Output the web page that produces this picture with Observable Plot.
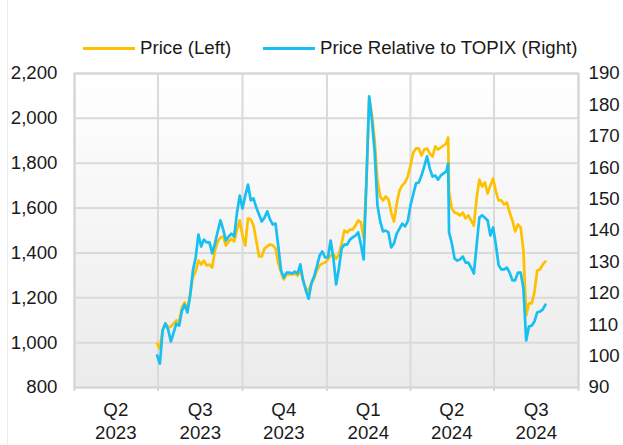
<!DOCTYPE html>
<html><head><meta charset="utf-8">
<script src="https://cdn.jsdelivr.net/npm/d3@7"></script>
<script src="https://cdn.jsdelivr.net/npm/@observablehq/plot@0.6"></script>
<style>
body{margin:0;background:#fff;font-family:"Liberation Sans",Arial,sans-serif;}
#wrap{position:relative;width:623px;height:445px;overflow:hidden;background:#fff}
#edge{position:absolute;left:7px;top:0;width:1px;height:445px;background:#ececec}
#legend{height:60px;position:relative;font-size:18.67px;color:#1a1a1a}
.item{position:absolute;top:37px;display:flex;align-items:center;white-space:nowrap;line-height:22px}
.swatch{display:inline-block;width:52px;height:3px;margin-right:5px}
#chart svg{display:block}
</style></head><body>
<div id="wrap">
<div id="edge"></div>
<div id="legend">
<div class="item" style="left:83px"><span class="swatch" style="background:#FFC000"></span>Price (Left)</div>
<div class="item" style="left:263px"><span class="swatch" style="background:#17BFF2"></span>Price Relative to TOPIX (Right)</div>
</div>
<div id="chart"></div>
</div>
<script>
const dates = ["2023-06-30","2023-07-03","2023-07-06","2023-07-09","2023-07-12","2023-07-15","2023-07-18","2023-07-21","2023-07-24","2023-07-27","2023-07-30","2023-08-02","2023-08-05","2023-08-08","2023-08-11","2023-08-14","2023-08-17","2023-08-20","2023-08-23","2023-08-26","2023-08-29","2023-09-01","2023-09-04","2023-09-07","2023-09-10","2023-09-13","2023-09-16","2023-09-19","2023-09-22","2023-09-25","2023-09-28","2023-10-01","2023-10-04","2023-10-07","2023-10-10","2023-10-13","2023-10-16","2023-10-19","2023-10-22","2023-10-25","2023-10-28","2023-10-31","2023-11-03","2023-11-06","2023-11-09","2023-11-12","2023-11-15","2023-11-18","2023-11-21","2023-11-24","2023-11-27","2023-11-30","2023-12-03","2023-12-06","2023-12-09","2023-12-12","2023-12-15","2023-12-18","2023-12-21","2023-12-24","2023-12-27","2023-12-30","2024-01-02","2024-01-05","2024-01-08","2024-01-11","2024-01-14","2024-01-17","2024-01-20","2024-01-23","2024-01-26","2024-01-29","2024-02-01","2024-02-04","2024-02-07","2024-02-10","2024-02-13","2024-02-16","2024-02-19","2024-02-22","2024-02-25","2024-02-28","2024-03-02","2024-03-05","2024-03-08","2024-03-11","2024-03-14","2024-03-17","2024-03-20","2024-03-23","2024-03-26","2024-03-29","2024-04-01","2024-04-04","2024-04-07","2024-04-10","2024-04-13","2024-04-16","2024-04-19","2024-04-22","2024-04-25","2024-04-28","2024-05-01","2024-05-04","2024-05-07","2024-05-10","2024-05-12","2024-05-13","2024-05-16","2024-05-19","2024-05-22","2024-05-25","2024-05-28","2024-05-31","2024-06-03","2024-06-06","2024-06-09","2024-06-12","2024-06-15","2024-06-18","2024-06-21","2024-06-24","2024-06-27","2024-06-30","2024-07-03","2024-07-06","2024-07-09","2024-07-12","2024-07-15","2024-07-18","2024-07-21","2024-07-24","2024-07-27","2024-07-30","2024-08-02","2024-08-05","2024-08-08","2024-08-11","2024-08-14","2024-08-17","2024-08-20","2024-08-23","2024-08-26"];

const price = [996,974,1054,1085,1068,1072,1085,1099,1094,1157,
1179,1143,1219,1295,1317,1366,1348,1366,1344,1348,
1335,1411,1451,1469,1473,1433,1451,1464,1451,1504,
1545,1478,1433,1554,1549,1522,1455,1384,1384,1420,
1429,1438,1433,1420,1353,1313,1282,1304,1304,1304,
1308,1299,1322,1277,1241,1233,1264,1286,1322,1344,
1353,1357,1371,1389,1393,1375,1393,1442,1500,1491,
1504,1504,1522,1545,1536,1464,1714,2089,2017,1901,
1723,1652,1634,1652,1638,1580,1540,1620,1678,1701,
1714,1741,1790,1848,1866,1866,1834,1861,1866,1843,
1830,1875,1861,1870,1879,1888,1915,1669,1598,1580,
1576,1567,1580,1554,1567,1545,1522,1643,1727,1696,
1714,1665,1701,1732,1674,1634,1634,1616,1625,1580,
1545,1496,1527,1513,1411,1121,1175,1175,1224,1322,
1326,1348,1362];

const relative = [100.2,97.6,108.2,110.4,108.5,104.6,107.5,110.4,109.7,114.5,
116.4,113.9,119.3,127.3,131.4,138.7,134.9,137.1,136.2,136.2,
132.7,135.9,139.7,143.2,140.3,136.8,138.1,139.0,138.1,145.7,
151.1,147.0,151.1,154.6,149.6,150.2,147.3,145.1,142.9,144.1,
146.1,143.5,141.9,142.2,134.9,127.3,125.0,126.6,126.6,126.3,
126.9,126.3,129.2,124.1,120.9,118.3,123.1,125.4,128.5,132.0,
133.3,131.4,131.4,136.8,131.1,122.8,127.9,134.3,135.5,135.5,
137.1,137.8,138.4,139.4,135.5,130.8,155.9,182.7,175.0,164.8,
148.0,142.9,139.7,140.0,139.4,134.6,135.9,139.0,140.6,142.2,
141.3,142.9,148.0,151.5,155.0,155.3,157.5,160.4,163.6,159.7,
157.2,157.5,156.2,157.5,158.2,158.8,161.3,139.4,135.9,131.1,
130.4,130.8,131.7,129.8,129.8,128.2,126.3,135.2,144.1,144.8,
144.1,143.2,138.4,141.0,135.5,128.9,127.6,127.6,128.2,126.6,
124.1,124.1,126.6,126.6,121.5,105.0,109.4,109.7,111.0,113.9,
114.2,114.8,116.4];

const leftTicks = [800, 1000, 1200, 1400, 1600, 1800, 2000, 2200];
const rightTicks = [90, 100, 110, 120, 130, 140, 150, 160, 170, 180, 190];
const quarterStarts = ["2023-04-01","2023-07-01","2023-10-01","2024-01-01","2024-04-01","2024-07-01","2024-10-01"];
const quarterMids = ["2023-05-16","2023-08-16","2023-11-15","2024-02-15","2024-05-16","2024-08-16"];
const quarterLabels = ["Q2\n2023","Q3\n2023","Q4\n2023","Q1\n2024","Q2\n2024","Q3\n2024"];

const parse = d3.utcParse("%Y-%m-%d");
const leftDomain = [800, 2200];
const rightDomain = [90, 190];
const k = (leftDomain[1] - leftDomain[0]) / (rightDomain[1] - rightDomain[0]);
const toLeft = v => leftDomain[0] + (v - rightDomain[0]) * k;
const fromLeft = v => rightDomain[0] + (v - leftDomain[0]) / k;

const data = dates.map((d, i) => ({date: parse(d), price: price[i], rel: relative[i]}));
const labelMap = new Map(quarterMids.map((d, i) => [+parse(d), quarterLabels[i]]));
const starts = quarterStarts.map(parse);

const chart = Plot.plot({
  width: 623, height: 385,
  marginLeft: 74, marginRight: 45, marginTop: 13, marginBottom: 58,
  style: {fontFamily: "'Liberation Sans', Arial, sans-serif", fontSize: "18.67px", color: "#1a1a1a", background: "transparent", overflow: "visible"},
  x: {type: "utc", domain: [starts[0], starts[starts.length - 1]], axis: null},
  y: {domain: leftDomain, axis: null},
  marks: [
    Plot.frame({fill: "url(#plotbg)", stroke: "none"}),
    Plot.ruleY(leftTicks, {stroke: "#dadada", strokeWidth: 2}),
    Plot.ruleX(starts, {stroke: "#dadada", strokeWidth: 2}),
    Plot.frame({stroke: "#d6d6d6", strokeWidth: 2}),
    Plot.axisX(starts, {tickSize: 4, tickFormat: () => "", stroke: "#d6d6d6", strokeWidth: 2, label: null}),
    Plot.axisY(leftTicks, {anchor: "left", tickSize: 0, tickPadding: 17, tickFormat: d3.format(","), label: null}),
    Plot.axisY(rightTicks.map(toLeft), {anchor: "right", tickSize: 0, tickPadding: 10, tickFormat: v => String(Math.round(fromLeft(v))), label: null}),
    Plot.axisX(quarterMids.map(parse), {tickSize: 0, tickPadding: 13, lineHeight: 1.2, tickFormat: d => labelMap.get(+d), label: null}),
    Plot.line(data, {x: "date", y: "price", stroke: "#FFC000", strokeWidth: 2.7}),
    Plot.line(data, {x: "date", y: d => toLeft(d.rel), stroke: "#17BFF2", strokeWidth: 2.7})
  ]
});

const svg = d3.select(chart);
const defs = svg.insert("defs", ":first-child");
const grad = defs.append("linearGradient").attr("id", "plotbg").attr("x1", 0).attr("y1", 0).attr("x2", 0).attr("y2", 1);
grad.append("stop").attr("offset", "0%").attr("stop-color", "#ffffff");
grad.append("stop").attr("offset", "100%").attr("stop-color", "#ebebeb");
document.getElementById("chart").appendChild(chart);
</script>
</body></html>
